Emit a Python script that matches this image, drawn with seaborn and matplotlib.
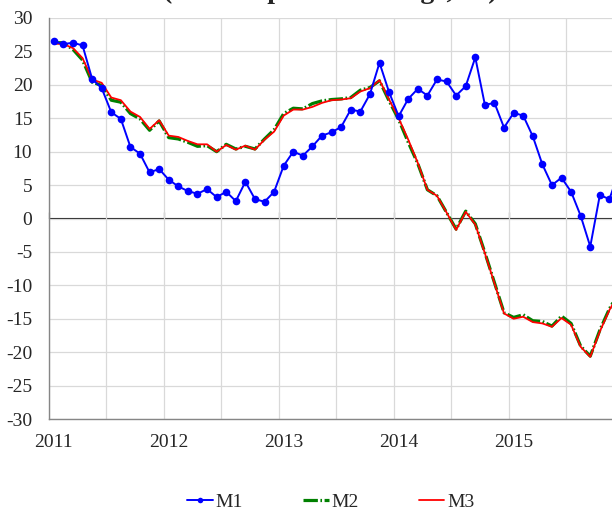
import numpy as np
import pandas as pd
import matplotlib
matplotlib.use('Agg')
import matplotlib.pyplot as plt
from matplotlib.lines import Line2D
import seaborn as sns

# monthly values, Jan 2011 .. Dec 2015 (yoy, %)
m1 = [26.5, 26.1, 26.3, 25.9, 20.9, 19.5, 15.9, 14.9, 10.7, 9.7, 6.9, 7.4,
      5.8, 4.8, 4.1, 3.7, 4.4, 3.2, 4.0, 2.6, 5.5, 2.9, 2.5, 4.0,
      7.9, 10.0, 9.4, 10.8, 12.4, 12.9, 13.7, 16.3, 16.0, 18.6, 23.3, 18.9,
      15.3, 17.9, 19.4, 18.4, 20.8, 20.5, 18.4, 19.8, 24.1, 17.0, 17.3, 13.6,
      15.8, 15.4, 12.3, 8.1, 5.0, 6.1, 4.0, 0.4, -4.2, 3.5, 2.9, 7.0]
m2 = [26.3, 26.3, 25.3, 23.7, 20.4, 19.9, 17.7, 17.4, 15.7, 14.9, 13.2, 14.6,
      12.1, 11.9, 11.4, 10.8, 10.9, 10.0, 11.1, 10.4, 10.8, 10.4, 11.9, 13.3,
      15.7, 16.5, 16.4, 17.2, 17.6, 17.8, 17.9, 18.1, 19.2, 19.6, 20.6, 17.6,
      14.8, 11.4, 8.2, 4.3, 3.4, 0.9, -1.6, 1.1, -0.8, -5.1, -9.6, -14.1,
      -14.8, -14.4, -15.3, -15.4, -16.1, -14.6, -15.7, -19.1, -20.6, -16.7, -13.5, -11.1]
m3 = [26.2, 26.1, 25.5, 24.0, 20.8, 20.3, 18.1, 17.7, 16.0, 15.2, 13.4, 14.7,
      12.4, 12.2, 11.6, 11.1, 11.1, 10.0, 11.0, 10.3, 10.9, 10.3, 11.8, 13.0,
      15.4, 16.3, 16.3, 16.7, 17.3, 17.7, 17.8, 18.0, 19.0, 19.5, 20.7, 17.8,
      15.0, 11.8, 8.3, 4.3, 3.4, 0.9, -1.7, 1.0, -0.9, -5.2, -9.7, -14.2,
      -15.0, -14.7, -15.5, -15.7, -16.2, -14.9, -15.9, -19.2, -20.7, -16.9, -13.7, -11.2]
year_labels = ['2011', '2012', '2013', '2014', '2015']

df = pd.DataFrame({'pos': np.arange(len(m1)) + 0.5, 'M1': m1, 'M2': m2, 'M3': m3})

sns.set_style('white')
plt.rcParams['font.family'] = ['Liberation Serif', 'DejaVu Serif']
plt.rcParams['axes.unicode_minus'] = False

W, H = 612, 513
fig = plt.figure(figsize=(W / 100, H / 100), dpi=100)
ax = fig.add_axes([49 / W, 94 / H, 563 / W, 401 / H])

blue, green, red = '#0000ff', '#008000', '#ff0000'
m2_style = (0, (4.5, 0.8, 0.5, 0.8))

sns.lineplot(data=df, x='pos', y='M2', ax=ax, color=green, lw=2.3, linestyle=m2_style)
sns.lineplot(data=df, x='pos', y='M3', ax=ax, color=red, lw=1.3)
sns.lineplot(data=df, x='pos', y='M1', ax=ax, color=blue, lw=1.4,
             marker='o', markersize=5.5, markeredgewidth=0)

ax.set_xlim(0, 58.77)
ax.set_ylim(-30, 30)
ax.set_xlabel('')
ax.set_ylabel('')

# grid every half year, year labels in the middle of January
ax.set_xticks(np.arange(0, 59, 6))
ax.set_xticklabels([])
ax.set_xticks(np.arange(len(year_labels)) * 12 + 0.5, labels=year_labels, minor=True)
ax.set_yticks(np.arange(-30, 31, 5))
ax.grid(True, which='major', color='#d9d9d9', lw=0.9)
ax.tick_params(axis='x', which='both', length=0, pad=11, labelsize=14)
ax.tick_params(axis='y', length=3, color='#868686', pad=9, labelsize=14, direction='out')

for side in ['top', 'right']:
    ax.spines[side].set_visible(False)
for side in ['left', 'bottom']:
    ax.spines[side].set_color('#868686')
    ax.spines[side].set_linewidth(1.0)

# zero line with year ticks
zero = ax.secondary_xaxis(0.5)
zero.set_xticks(np.arange(len(year_labels)) * 12, labels=[''] * len(year_labels))
zero.tick_params(length=4, color='#a6a6a6', width=1.0, direction='out')
zero.spines['bottom'].set_color('#a6a6a6')
zero.spines['bottom'].set_linewidth(1.4)

handles = [Line2D([], [], color=blue, lw=1.4, marker='o', markersize=4, markeredgewidth=0),
           Line2D([], [], color=green, lw=2.3, linestyle=m2_style),
           Line2D([], [], color=red, lw=1.3)]
fig.legend(handles, ['M1', 'M2', 'M3'], loc='center', bbox_to_anchor=(331 / W, 1 - 502 / H),
           ncol=3, frameon=False, fontsize=14, handlelength=1.3, handletextpad=0.15,
           columnspacing=3.1)

# title sits above the top edge; only its lowest strokes fall inside the picture
fig.text(330 / W, 1 + 2.5 / H, '(Annual percent change, %)', ha='center', va='baseline',
         fontsize=20, fontweight='bold')

fig.savefig('out.png', dpi=100)
